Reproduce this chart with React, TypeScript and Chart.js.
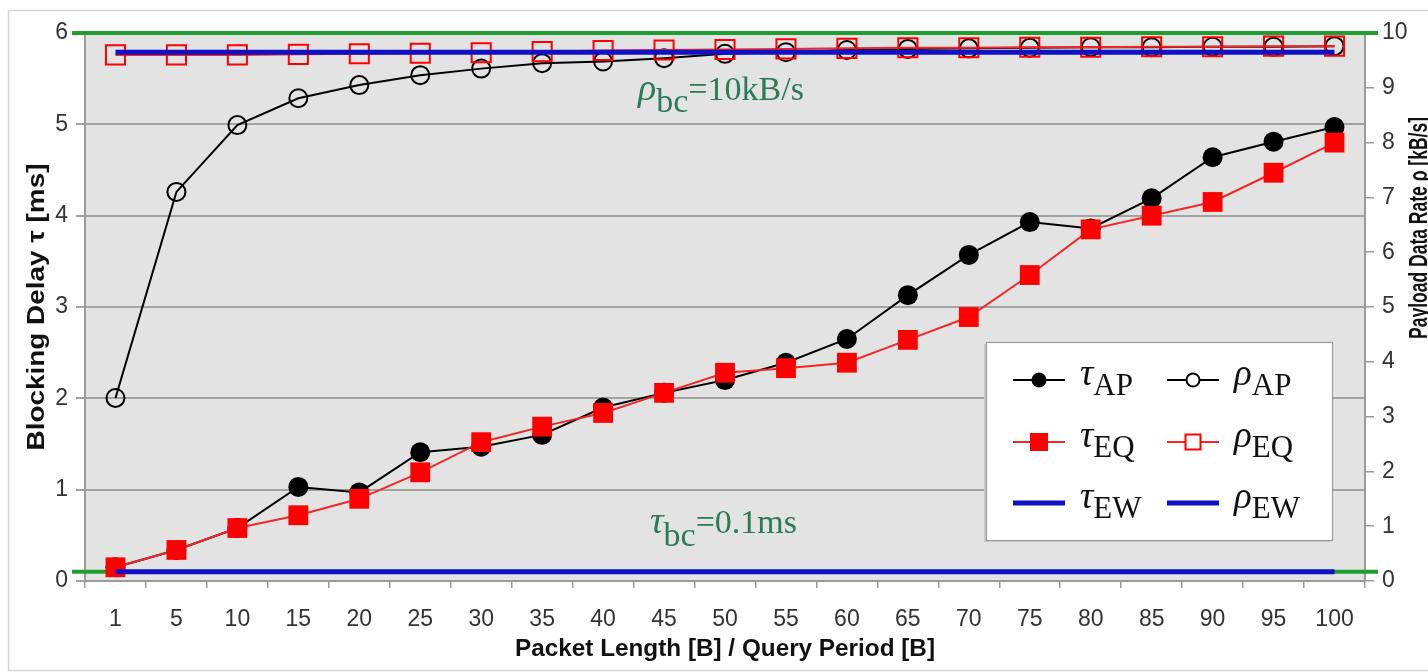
import React, { useEffect, useRef } from "react";
import { Chart, registerables } from "chart.js";

Chart.register(...registerables);

// ---------- data ----------
const categories = ["1", "5", "10", "15", "20", "25", "30", "35", "40", "45", "50", "55", "60", "65", "70", "75", "80", "85", "90", "95", "100"];

// Blocking delay tau [ms] (left axis)
const tauAP = [0.15, 0.34, 0.58, 1.03, 0.97, 1.41, 1.47, 1.6, 1.9, 2.06, 2.2, 2.39, 2.65, 3.13, 3.57, 3.93, 3.86, 4.19, 4.64, 4.81, 4.97];
const tauEQ = [0.15, 0.34, 0.58, 0.72, 0.9, 1.19, 1.52, 1.69, 1.84, 2.06, 2.28, 2.33, 2.39, 2.64, 2.89, 3.35, 3.85, 4.0, 4.15, 4.47, 4.8];
const tauEW = [0.1, 0.1, 0.1, 0.1, 0.1, 0.1, 0.1, 0.1, 0.1, 0.1, 0.1, 0.1, 0.1, 0.1, 0.1, 0.1, 0.1, 0.1, 0.1, 0.1, 0.1];

// Payload data rate rho [kB/s] (right axis)
const rhoAP = [3.34, 7.1, 8.32, 8.81, 9.05, 9.23, 9.35, 9.45, 9.48, 9.54, 9.62, 9.65, 9.69, 9.71, 9.72, 9.73, 9.74, 9.74, 9.75, 9.75, 9.76];
const rhoEQ = [9.6, 9.6, 9.6, 9.61, 9.62, 9.63, 9.64, 9.66, 9.68, 9.69, 9.7, 9.71, 9.72, 9.73, 9.73, 9.74, 9.74, 9.75, 9.75, 9.76, 9.76];
const rhoEW = [9.65, 9.65, 9.65, 9.65, 9.65, 9.65, 9.65, 9.65, 9.65, 9.65, 9.65, 9.65, 9.65, 9.65, 9.65, 9.65, 9.65, 9.65, 9.65, 9.65, 9.65];

// bounds
const tauBC = 0.1;
const rhoBC = 10;

// axis ranges / labels
const leftAxisMax = 6;
const rightAxisMax = 10;
const xTitle = "Packet Length [B] / Query Period [B]";
const leftTitle = "Blocking Delay \u03c4 [ms]";
const rightTitle = "Payload Data Rate \u03c1 [kB/s]";

// ---------- styles ----------
const SANS = "'Liberation Sans', Arial, sans-serif";
const SERIF = "'Liberation Serif', 'Times New Roman', serif";
const BLACK = "#000000";
const RED = "#ff0000";
const RED_LINE = "#f02828";
const BLUE = "#1010c4";
const GREEN = "#1f9e2f";
const ANNOT = "#2b7a58";
const GRID = "#a3a3a3";
const AXIS = "#9a9a9a";
const PLOT_BG = "#e3e3e3";

function stretchedText(ctx: CanvasRenderingContext2D, text: string, cx: number, cy: number, font: string, len: number, rot: number) {
  ctx.save();
  ctx.font = font;
  const w = ctx.measureText(text).width;
  ctx.translate(cx, cy);
  ctx.rotate(rot);
  ctx.scale(len / w, 1);
  ctx.textAlign = "center";
  ctx.textBaseline = "middle";
  ctx.fillStyle = "#111";
  ctx.fillText(text, 0, 0);
  ctx.restore();
}

type Part = { t: string; font: string; dy: number };
function subText(ctx: CanvasRenderingContext2D, x: number, y: number, parts: Part[], color: string) {
  ctx.save();
  ctx.fillStyle = color;
  ctx.textAlign = "left";
  ctx.textBaseline = "alphabetic";
  let cx = x;
  for (const p of parts) {
    ctx.font = p.font;
    ctx.fillText(p.t, cx, y + p.dy);
    cx += ctx.measureText(p.t).width;
  }
  ctx.restore();
}

function legendMarker(ctx: CanvasRenderingContext2D, kind: string, x: number, y: number) {
  ctx.save();
  if (kind === "fcircle") {
    ctx.fillStyle = BLACK;
    ctx.beginPath();
    ctx.arc(x, y, 7.5, 0, Math.PI * 2);
    ctx.fill();
  } else if (kind === "ocircle") {
    ctx.fillStyle = "#fff";
    ctx.strokeStyle = BLACK;
    ctx.lineWidth = 2;
    ctx.beginPath();
    ctx.arc(x, y, 6.5, 0, Math.PI * 2);
    ctx.fill();
    ctx.stroke();
  } else if (kind === "fsquare") {
    ctx.fillStyle = RED;
    ctx.fillRect(x - 9, y - 9, 18, 18);
  } else if (kind === "osquare") {
    ctx.fillStyle = "#fff";
    ctx.strokeStyle = RED;
    ctx.lineWidth = 2;
    ctx.fillRect(x - 7.5, y - 7.5, 15, 15);
    ctx.strokeRect(x - 7.5, y - 7.5, 15, 15);
  }
  ctx.restore();
}

const decorPlugin = {
  id: "decor",
  beforeDraw(chart: any) {
    const { ctx, chartArea: ca, width, height } = chart;
    ctx.save();
    ctx.fillStyle = "#ffffff";
    ctx.fillRect(0, 0, width, height);
    // outer frame
    ctx.strokeStyle = "#d6d6d6";
    ctx.lineWidth = 1.5;
    ctx.beginPath();
    ctx.moveTo(width + 2, 10.5);
    ctx.lineTo(8.5, 10.5);
    ctx.lineTo(8.5, 670.5);
    ctx.lineTo(width + 2, 670.5);
    ctx.stroke();
    // plot background
    ctx.fillStyle = PLOT_BG;
    ctx.fillRect(ca.left, ca.top, ca.right - ca.left, ca.bottom - ca.top);
    ctx.restore();
  },
  beforeDatasetsDraw(chart: any) {
    const { ctx, chartArea: ca, scales } = chart;
    ctx.save();
    ctx.strokeStyle = GREEN;
    ctx.lineWidth = 4;
    const yT = scales.y.getPixelForValue(tauBC);
    const yR = scales.y1.getPixelForValue(rhoBC);
    ctx.beginPath();
    ctx.moveTo(ca.left - 13, yT);
    ctx.lineTo(ca.right + 13, yT);
    ctx.moveTo(ca.left - 13, yR);
    ctx.lineTo(ca.right + 13, yR);
    ctx.stroke();
    ctx.restore();
  },
  afterDraw(chart: any) {
    const { ctx, chartArea: ca } = chart;
    // annotations
    subText(ctx, ca.left + 553, ca.top + 67, [
      { t: "\u03c1", font: `italic 38px ${SERIF}`, dy: 0 },
      { t: "bc", font: `34px ${SERIF}`, dy: 12 },
      { t: "=10kB/s", font: `34px ${SERIF}`, dy: 0 },
    ], ANNOT);
    subText(ctx, ca.left + 565, ca.top + 500, [
      { t: "\u03c4", font: `italic 38px ${SERIF}`, dy: 0 },
      { t: "bc", font: `34px ${SERIF}`, dy: 13 },
      { t: "=0.1ms", font: `34px ${SERIF}`, dy: 0 },
    ], ANNOT);

    // legend
    const lx = ca.right - 379;
    const ly = ca.top + 309;
    const lw = 346;
    const lh = 198;
    ctx.save();
    ctx.fillStyle = "#c8c8c8";
    ctx.fillRect(lx - 2, ly + 2, lw, lh);
    ctx.fillStyle = "#ffffff";
    ctx.fillRect(lx, ly, lw, lh);
    ctx.strokeStyle = "#9c9c9c";
    ctx.lineWidth = 1.2;
    ctx.strokeRect(lx + 0.5, ly + 0.5, lw, lh);
    ctx.restore();

    const rows = [
      { y: ly + 38, sub: "AP", c: BLACK, lw: 2, m1: "fcircle", m2: "ocircle" },
      { y: ly + 100, sub: "EQ", c: RED_LINE, lw: 2, m1: "fsquare", m2: "osquare" },
      { y: ly + 161, sub: "EW", c: BLUE, lw: 5, m1: "", m2: "" },
    ];
    const cols = [
      { x1: lx + 27, sym: "\u03c4", key: "m1" },
      { x1: lx + 181, sym: "\u03c1", key: "m2" },
    ];
    for (const r of rows) {
      for (const c of cols) {
        ctx.save();
        ctx.strokeStyle = r.c;
        ctx.lineWidth = r.lw;
        ctx.beginPath();
        ctx.moveTo(c.x1, r.y);
        ctx.lineTo(c.x1 + 52, r.y);
        ctx.stroke();
        ctx.restore();
        const mk = (r as any)[c.key];
        if (mk) legendMarker(ctx, mk, c.x1 + 26, r.y);
        subText(ctx, c.x1 + 67, r.y + 5, [
          { t: c.sym, font: `italic 37px ${SERIF}`, dy: 0 },
          { t: r.sub, font: `31px ${SERIF}`, dy: 10 },
        ], "#111");
      }
    }

    // axis titles
    stretchedText(ctx, leftTitle, 37, (ca.top + ca.bottom) / 2, `bold 24px ${SANS}`, 287, -Math.PI / 2);
    stretchedText(ctx, rightTitle, 1420, 228, `bold 26px ${SANS}`, 222, -Math.PI / 2);
    stretchedText(ctx, xTitle, 725, 649, `bold 24px ${SANS}`, 420, 0);
  },
};

export default function App() {
  const ref = useRef<HTMLCanvasElement | null>(null);

  useEffect(() => {
    if (!ref.current) return;
    const tickFont = { family: SANS, size: 23 };
    const chart = new Chart(ref.current, {
      type: "line",
      data: {
        labels: categories,
        datasets: [
          {
            label: "\u03c4EW",
            data: tauEW,
            yAxisID: "y",
            borderColor: BLUE,
            backgroundColor: BLUE,
            borderWidth: 5,
            pointRadius: 0,
          },
          {
            label: "\u03c1EW",
            data: rhoEW,
            yAxisID: "y1",
            borderColor: BLUE,
            backgroundColor: BLUE,
            borderWidth: 5,
            pointRadius: 0,
          },
          {
            label: "\u03c4EQ",
            data: tauEQ,
            yAxisID: "y",
            borderColor: RED_LINE,
            backgroundColor: RED,
            borderWidth: 2,
            pointStyle: "rect",
            pointRadius: 14,
            pointBorderWidth: 0,
            pointBackgroundColor: RED,
          },
          {
            label: "\u03c1EQ",
            data: rhoEQ,
            yAxisID: "y1",
            borderColor: RED_LINE,
            backgroundColor: "rgba(0,0,0,0)",
            borderWidth: 2,
            pointStyle: "rect",
            pointRadius: 13.5,
            pointBorderWidth: 2,
            pointBorderColor: RED,
            pointBackgroundColor: "rgba(0,0,0,0)",
          },
          {
            label: "\u03c4AP",
            data: tauAP,
            yAxisID: "y",
            borderColor: BLACK,
            backgroundColor: BLACK,
            borderWidth: 2,
            pointStyle: "circle",
            pointRadius: 10,
            pointBorderWidth: 0,
            pointBackgroundColor: BLACK,
          },
          {
            label: "\u03c1AP",
            data: rhoAP,
            yAxisID: "y1",
            borderColor: BLACK,
            backgroundColor: "rgba(0,0,0,0)",
            borderWidth: 2,
            pointStyle: "circle",
            pointRadius: 9,
            pointBorderWidth: 2,
            pointBorderColor: BLACK,
            pointBackgroundColor: "rgba(0,0,0,0)",
          },
        ],
      },
      options: {
        responsive: false,
        animation: false,
        layout: { padding: { top: 33, left: 0, right: 0, bottom: 0 } },
        plugins: {
          legend: { display: false },
          tooltip: { enabled: false },
        },
        elements: { line: { tension: 0 } },
        scales: {
          x: {
            type: "category",
            offset: true,
            afterFit: (s: any) => {
              s.height = 91;
            },
            grid: {
              display: true,
              offset: true,
              drawOnChartArea: false,
              drawTicks: true,
              tickLength: 7,
              color: AXIS,
              lineWidth: 1.5,
            },
            border: { display: true, color: AXIS, width: 2 },
            ticks: { font: tickFont, color: "#333", padding: 18, maxRotation: 0, autoSkip: false },
          },
          y: {
            position: "left",
            min: 0,
            max: leftAxisMax,
            afterFit: (s: any) => {
              s.width = 85;
            },
            grid: { color: GRID, lineWidth: 2, tickLength: 9, drawTicks: true },
            border: { display: true, color: AXIS, width: 2 },
            ticks: { stepSize: 1, font: tickFont, color: "#333", padding: 8 },
          },
          y1: {
            position: "right",
            min: 0,
            max: rightAxisMax,
            afterFit: (s: any) => {
              s.width = 63;
            },
            grid: { drawOnChartArea: false, color: AXIS, lineWidth: 1.5, tickLength: 9, drawTicks: true },
            border: { display: true, color: AXIS, width: 2 },
            ticks: { stepSize: 1, font: tickFont, color: "#333", padding: 8 },
          },
        },
      },
      plugins: [decorPlugin],
    } as any);
    return () => chart.destroy();
  }, []);

  return (
    <div style={{ position: "absolute", left: 0, top: 0, width: 1428, height: 672, overflow: "hidden" }}>
      <canvas ref={ref} width={1428} height={672} style={{ display: "block", width: 1428, height: 672 }} />
    </div>
  );
}
